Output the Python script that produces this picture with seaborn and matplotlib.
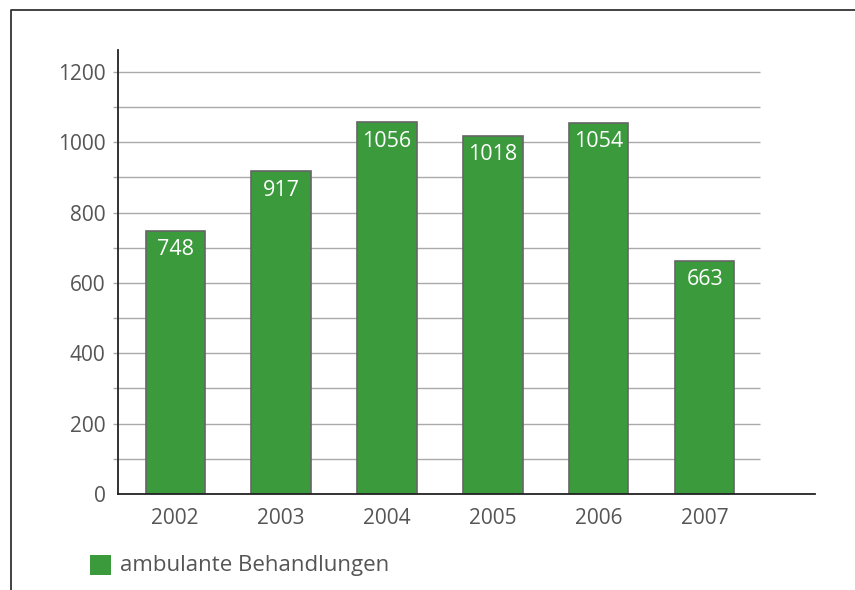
import matplotlib
matplotlib.use("Agg")
import matplotlib.pyplot as plt
import matplotlib.lines as mlines
import matplotlib.patches as mpatches
import seaborn as sns
import pandas as pd

# data
years = ["2002", "2003", "2004", "2005", "2006", "2007"]
behandlungen = [748, 917, 1056, 1018, 1054, 663]
y_ticks = [0, 200, 400, 600, 800, 1000, 1200]
grid_values = [100, 200, 300, 400, 500, 600, 700, 800, 900, 1000, 1100, 1200]
legend_label = "ambulante Behandlungen"

GREEN = "#3a9a3c"
TEXT = "#555555"

sns.set_style("white")
plt.rcParams["font.family"] = ["Open Sans", "DejaVu Sans"]

df = pd.DataFrame({"Jahr": years, "Anzahl": behandlungen})

fig = plt.figure(figsize=(8.55, 5.9), dpi=100)
ax = fig.add_axes([0.138, 0.1627, 0.815, 0.7526])

# grid lines behind the bars, poking a little past the y axis
ax.hlines(grid_values, -0.59, 5.52, colors="#aaaaaa", lw=1, clip_on=False, zorder=0)

sns.barplot(data=df, x="Jahr", y="Anzahl", color=GREEN, saturation=1,
            edgecolor="#666666", linewidth=1.2, width=0.56, ax=ax, zorder=2)

for i, v in enumerate(behandlungen):
    ax.annotate(str(v), (i, v), xytext=(0, -6), textcoords="offset points",
                ha="center", va="top", color="white", fontsize=15.5, zorder=3)

ax.set_xlim(-0.54, 6.04)
ax.set_ylim(0, 1262)
ax.set_yticks(y_ticks)
ax.set_xlabel("")
ax.set_ylabel("")
ax.tick_params(axis="both", length=0, labelsize=15, colors=TEXT)
ax.tick_params(axis="y", pad=9)
ax.tick_params(axis="x", pad=10)

for s in ["top", "right"]:
    ax.spines[s].set_visible(False)
for s in ["left", "bottom"]:
    ax.spines[s].set_color("#222222")
    ax.spines[s].set_linewidth(1.3)

# legend square and text
fig.patches.append(mpatches.Rectangle((90 / 855, 1 - 575 / 590), 21 / 855, 20 / 590,
                                      transform=fig.transFigure, facecolor=GREEN,
                                      edgecolor="none"))
fig.text(120 / 855, 1 - 566 / 590, legend_label, fontsize=16, color=TEXT, va="center")

# open frame around the figure (left and top only)
fig.lines.append(mlines.Line2D([11 / 855, 11 / 855, 1.0], [0.0, 1 - 10 / 590, 1 - 10 / 590],
                               transform=fig.transFigure, color="#333333", lw=1.3))

fig.savefig("out.png", dpi=100)
